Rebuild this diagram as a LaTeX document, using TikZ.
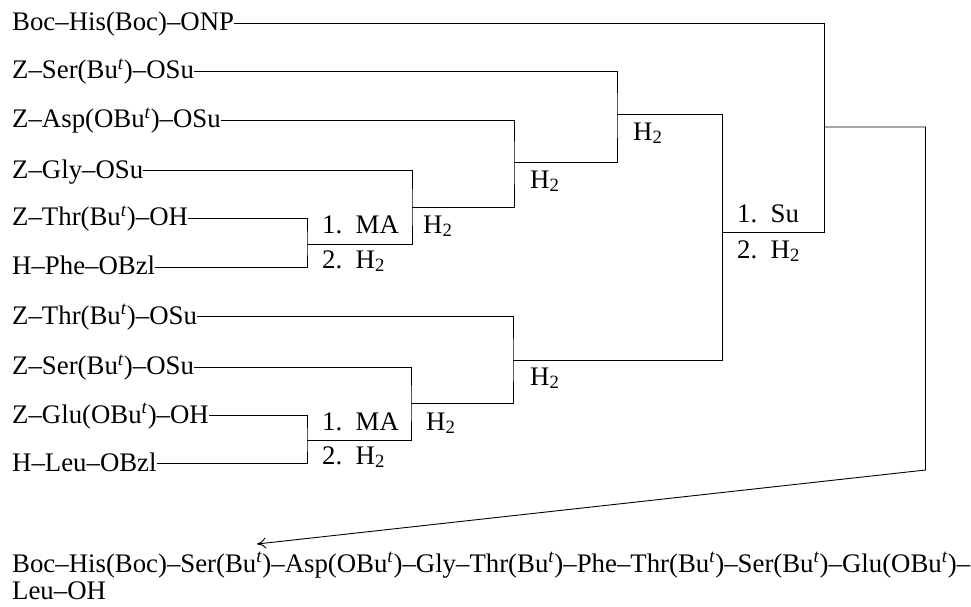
\documentclass[tikz,border=0pt]{standalone}
\usepackage{fontspec}
\setmainfont{Liberation Serif}
\usetikzlibrary{arrows.meta}
\newcommand{\tbu}{Bu\textsuperscript{\textit{t}}}
\newcommand{\htwo}{H\textsubscript{2}}
\begin{document}
\begin{tikzpicture}[x=1pt,y=-1pt,
  every node/.style={font=\fontsize{26.8}{30}\selectfont, inner sep=0pt},
  reagent/.style={anchor=west, text height=19pt, text depth=4pt},
  cond/.style={anchor=base west},
  conn/.style={line width=0.9pt, line join=miter},
  arr/.style={conn, -{To[length=9pt,width=11pt,line width=0.9pt]}}]
\useasboundingbox (0,0) rectangle (971,606);
% starting materials
\node[reagent] (his)  at (12,23.3) {Boc–His(Boc)–ONP};
\node[reagent] (serA) at (12,71)   {Z–Ser(\tbu)–OSu};
\node[reagent] (asp)  at (12,120)  {Z–Asp(O\tbu)–OSu};
\node[reagent] (gly)  at (12,170.5){Z–Gly–OSu};
\node[reagent] (thrA) at (12,218)  {Z–Thr(\tbu)–OH};
\node[reagent] (phe)  at (12,267)  {H–Phe–OBzl};
\node[reagent] (thrB) at (12,316.5){Z–Thr(\tbu)–OSu};
\node[reagent] (serB) at (12,367)  {Z–Ser(\tbu)–OSu};
\node[reagent] (glu)  at (12,415.5){Z–Glu(O\tbu)–OH};
\node[reagent] (leu)  at (12,463.5){H–Leu–OBzl};
% junctions
\coordinate (m1) at (307,244);
\coordinate (j1) at (412,207);
\coordinate (j2) at (514,162);
\coordinate (j3) at (617,114);
\coordinate (m2) at (307,440);
\coordinate (k1) at (411,403);
\coordinate (k2) at (513,360);
\coordinate (su) at (722,232);
\coordinate (top) at (824,127);
\coordinate (c1) at (925.5,470);
\coordinate (tgt) at (257,544);
% brackets
\draw[conn] (thrA.east) -| (m1) |- (phe.east);
\draw[conn] (gly.east) -| (j1) |- (m1);
\draw[conn] (asp.east) -| (j2) |- (j1);
\draw[conn] (serA.east) -| (j3) |- (j2);
\draw[conn] (glu.east) -| (m2) |- (leu.east);
\draw[conn] (serB.east) -| (k1) |- (m2);
\draw[conn] (thrB.east) -| (k2) |- (k1);
\draw[conn] (j3) -| (su) |- (k2);
\draw[conn] (his.east) -| (top) |- (su);
\draw[arr] (top) -| (c1) -- (tgt);
% conditions
\node[cond] (ma1) at (322,233) {1.\enspace MA};
\node[cond] (hb1) at (322,268) {2.\enspace \htwo};
\node[cond] (h1)  at (423,233) {\htwo};
\node[cond] (h2)  at (530,188) {\htwo};
\node[cond] (h3)  at (633,140) {\htwo};
\node[cond] (ma2) at (322,430) {1.\enspace MA};
\node[cond] (hb2) at (322,464) {2.\enspace \htwo};
\node[cond] (h4)  at (426,430) {\htwo};
\node[cond] (h5)  at (530,385) {\htwo};
\node[cond] (su1) at (737,222) {1.\enspace Su};
\node[cond] (su2) at (737,258) {2.\enspace \htwo};
% product
\node[cond] (prod1) at (12,572) {Boc–His(Boc)–Ser(\tbu)–Asp(O\tbu)–Gly–Thr(\tbu)–Phe–Thr(\tbu)–Ser(\tbu)–Glu(O\tbu)–};
\node[cond] (prod2) at (12,599.5) {Leu–OH};
\end{tikzpicture}
\end{document}
